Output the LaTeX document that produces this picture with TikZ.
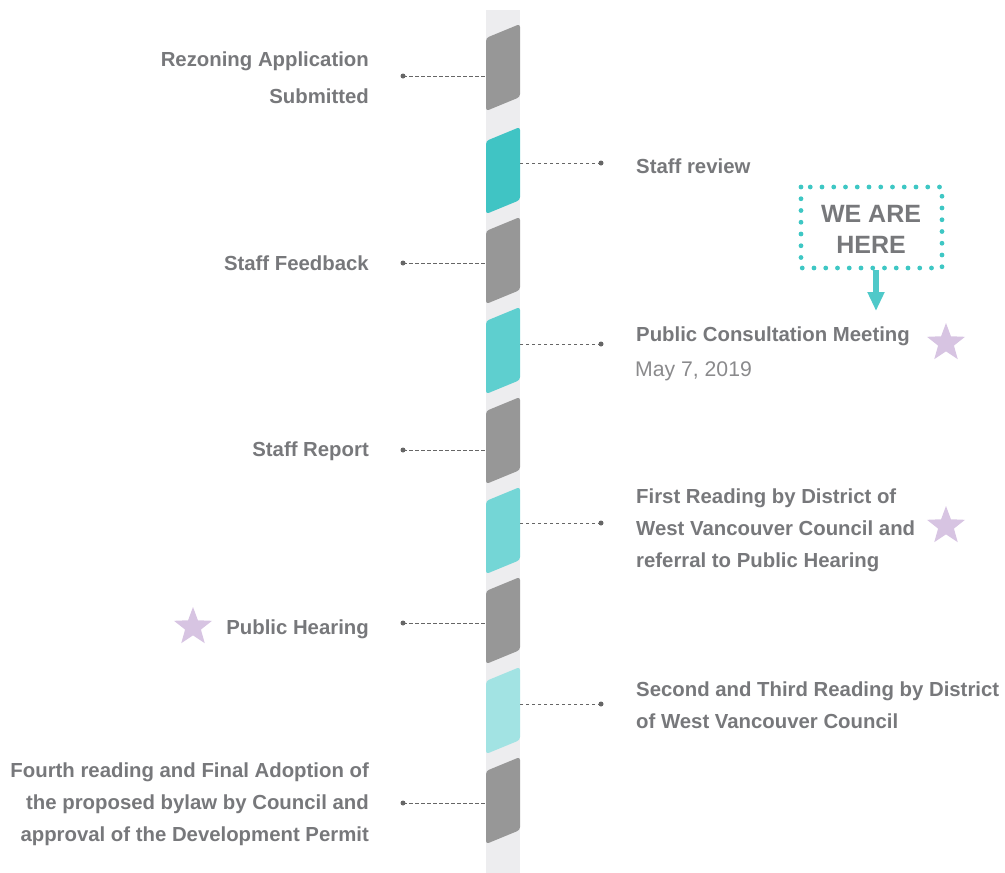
\documentclass[tikz,border=0pt]{standalone}
\usepackage{fontspec}
\setmainfont{Liberation Sans}
\usetikzlibrary{shapes.geometric,arrows.meta}
\definecolor{stripbg}{HTML}{EDEDEF}
\definecolor{seggray}{HTML}{979797}
\definecolor{tealA}{HTML}{40C4C4}
\definecolor{tealB}{HTML}{5ECFCF}
\definecolor{tealC}{HTML}{74D6D6}
\definecolor{tealD}{HTML}{A2E3E3}
\definecolor{txtgray}{HTML}{77787B}
\definecolor{datecol}{HTML}{8A8A8C}
\definecolor{lineg}{HTML}{666666}
\definecolor{starcol}{HTML}{D7C4E2}
\definecolor{hereteal}{HTML}{3EC7C4}
\definecolor{arrowteal}{HTML}{4FC9C9}
\tikzset{
  lbl/.style={inner sep=0pt, text=txtgray, font=\bfseries\fontsize{20.35}{32}\selectfont},
  leftlbl/.style={lbl, anchor=east, align=right},
  rightlbl/.style={lbl, anchor=west, align=left},
  dotnode/.style={circle, fill=lineg, inner sep=0pt, minimum size=5pt},
  leader/.style={draw=lineg, line width=0.9pt, dash pattern=on 3.5pt off 2.5pt},
  starmark/.style={star, star points=5, star point ratio=2.4, fill=starcol, inner sep=0pt, minimum size=40pt},
}
\newcommand{\seg}[2]{% #1 = top-right y, #2 = colour
  \fill[#2, rounded corners=3pt] (486,#1+14) -- (520,#1) -- (520,#1+73) -- (486,#1+87) -- cycle;
}
\begin{document}
\begin{tikzpicture}[x=1pt,y=-1pt]
\useasboundingbox (0,0) rectangle (1005,873);
% strip
\fill[stripbg] (486,10) rectangle (520,873);
% segments
\seg{24}{seggray}
\seg{127}{tealA}
\seg{217}{seggray}
\seg{307}{tealB}
\seg{397}{seggray}
\seg{487}{tealC}
\seg{577}{seggray}
\seg{667}{tealD}
\seg{757}{seggray}
% segment edge coordinates
\coordinate (e1) at (486,76);
\coordinate (e2) at (520,163);
\coordinate (e3) at (486,263);
\coordinate (e4) at (520,344);
\coordinate (e5) at (486,450);
\coordinate (e6) at (520,523);
\coordinate (e7) at (486,623);
\coordinate (e8) at (520,704);
\coordinate (e9) at (486,803);
% dots
\node[dotnode] (d1) at (403,76) {};
\node[dotnode] (d2) at (601,163) {};
\node[dotnode] (d3) at (403,263) {};
\node[dotnode] (d4) at (601,344) {};
\node[dotnode] (d5) at (403,450) {};
\node[dotnode] (d6) at (601,523) {};
\node[dotnode] (d7) at (403,623) {};
\node[dotnode] (d8) at (601,704) {};
\node[dotnode] (d9) at (403,803) {};
\foreach \i in {1,...,9} { \draw[leader] (d\i.center) -- (e\i); }
% left labels
\node[leftlbl, font=\bfseries\fontsize{20.35}{37}\selectfont] (l1) at (369,78) {Rezoning Application\\Submitted};
\node[leftlbl] (l3) at (369,263) {Staff Feedback};
\node[leftlbl] (l5) at (369,451) {Staff Report};
\node[leftlbl] (l7) at (369,629) {Public Hearing};
\node[leftlbl] (l9) at (369,804) {Fourth reading and Final Adoption of\\the proposed bylaw by Council and\\approval of the Development Permit};
% right labels
\node[rightlbl] (r2) at (636,166) {Staff review};
\node[rightlbl] (r4) at (636,336) {Public Consultation Meeting};
\node[anchor=west, inner sep=0pt, text=datecol, font=\fontsize{21.2}{24}\selectfont] (r4d) at (635,371) {May 7, 2019};
\node[rightlbl] (r6) at (636,530) {First Reading by District of\\West Vancouver Council and\\referral to Public Hearing};
\node[rightlbl] (r8) at (636,705) {Second and Third Reading by District\\of West Vancouver Council};
% stars
\node[starmark] (st1) at (946,343) {};
\node[starmark] (st2) at (946,526) {};
\node[starmark] (st3) at (193,627) {};
% we are here
\draw[hereteal, line width=4.8pt, line cap=round, dash pattern=on 0pt off 11.75pt] (801,187) rectangle (942,268);
\node[inner sep=0pt, text=txtgray, align=center, font=\bfseries\fontsize{25}{31}\selectfont] (here) at (871,229) {WE ARE\\HERE};
\coordinate (hb) at (876,270);
\coordinate (ht) at (876,311);
\draw[arrowteal, line width=6pt, -{Triangle[width=16pt,length=19pt]}] (hb) -- (ht);
\end{tikzpicture}
\end{document}
